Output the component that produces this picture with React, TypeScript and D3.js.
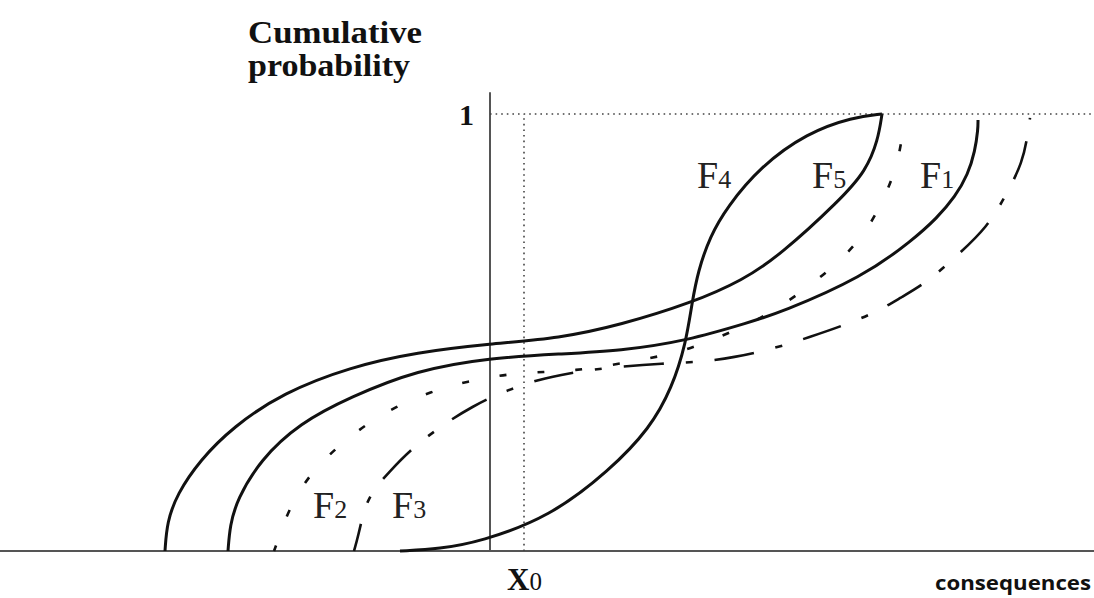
import React from "react";
import * as d3 from "d3";

// Consequence units (vertical axis at 0), cumulative probability 0..1
const X0 = 0.68;
const yTicks = [1];

const F1: [number, number][] = [
  [-5.24, 0], [-5.2, 0.059], [-5.06, 0.117], [-4.6, 0.208], [-3.8, 0.293], [-2.8, 0.352],
  [-1.46, 0.414], [0, 0.442], [1.4, 0.451], [2.6, 0.458], [3.94, 0.481], [5.2, 0.524],
  [5.8, 0.545], [7.46, 0.627], [8.46, 0.712], [8.94, 0.762], [9.3, 0.81], [9.56, 0.862],
  [9.7, 0.915], [9.76, 0.965], [9.76, 0.986],
];
const F2: [number, number][] = [
  [-4.32, 0], [-4.26, 0.018], [-4.02, 0.098], [-3.62, 0.174], [-3.06, 0.238], [-2.5, 0.288],
  [-1.9, 0.33], [-1.2, 0.364], [-0.44, 0.389], [0.34, 0.405], [1.1, 0.41], [1.7, 0.413],
  [2.4, 0.425], [3.1, 0.439], [3.8, 0.455], [4.46, 0.483], [5.24, 0.522], [5.86, 0.563],
  [6.5, 0.616], [7.06, 0.67], [7.52, 0.73], [7.86, 0.801], [8.14, 0.879], [8.26, 0.959],
  [8.3, 0.991],
];
const F3: [number, number][] = [
  [-2.72, 0], [-2.64, 0.032], [-2.5, 0.105], [-2.3, 0.144], [-2.04, 0.178], [-1.54, 0.238],
  [-0.86, 0.295], [-0.36, 0.33], [0.2, 0.362], [1.0, 0.394], [1.6, 0.407], [2.26, 0.419],
  [3.54, 0.43], [4.16, 0.432], [4.86, 0.442], [5.74, 0.465], [6.4, 0.49], [7.0, 0.513],
  [7.74, 0.547], [8.2, 0.579], [8.76, 0.616], [9.4, 0.682], [9.94, 0.741], [10.3, 0.81],
  [10.66, 0.89], [10.76, 0.959], [10.8, 0.991],
];
const F4: [number, number][] = [
  [-1.8, 0], [-1.0, 0.005], [-0.2, 0.021], [1.2, 0.078], [2.4, 0.185], [3.2, 0.281],
  [3.64, 0.373], [3.92, 0.476], [4.04, 0.568], [4.16, 0.64], [4.4, 0.72], [4.74, 0.787],
  [5.4, 0.879], [6.34, 0.957], [7.26, 0.993], [7.84, 1],
];
const F5: [number, number][] = [
  [-6.5, 0], [-6.46, 0.066], [-6.26, 0.13], [-5.8, 0.208], [-5.14, 0.284], [-4.14, 0.362],
  [-2.8, 0.421], [-1.46, 0.455], [0, 0.474], [1.4, 0.487], [2.6, 0.517], [4.04, 0.568],
  [5.06, 0.62], [5.8, 0.677], [7.0, 0.803], [7.52, 0.87], [7.76, 0.94], [7.84, 1],
];

const seriesNames = ["F1", "F2", "F3", "F4", "F5"];
const seriesData = [F1, F2, F3, F4, F5];
const seriesDash = ["none", "7,31", "40,22,7,22", "none", "none"];
// label anchor points [x, p]
const labelPos: [number, number][] = [[8.6, 0.831], [-3.54, 0.0755], [-1.96, 0.0755], [4.14, 0.831], [6.44, 0.831]];

const W = 1094;
const H = 598;

export default function App() {
  const x = d3.scaleLinear().domain([-9.8, 12.08]).range([0, W]);
  const y = d3.scaleLinear().domain([0, 1]).range([551, 114]);
  const line = d3
    .line<[number, number]>()
    .x((d) => x(d[0]))
    .y((d) => y(d[1]))
    .curve(d3.curveBasis);

  const serif = "'Liberation Serif', 'Times New Roman', serif";

  return (
    <div style={{ position: "absolute", left: 0, top: 0, background: "#fff" }}>
      <svg width={W} height={H} viewBox={`0 0 ${W} ${H}`} style={{ display: "block" }}>
        <rect width={W} height={H} fill="#fff" />
        {/* axes */}
        <line x1={x(-9.8)} x2={x(12.08)} y1={y(0)} y2={y(0)} stroke="#555" strokeWidth={2} />
        <line x1={x(0)} x2={x(0)} y1={y(0)} y2={y(1.05)} stroke="#555" strokeWidth={2} />
        {/* dotted references */}
        {yTicks.map((t) => (
          <line key={t} x1={x(0)} x2={x(12.08)} y1={y(t)} y2={y(t)} stroke="#444" strokeWidth={1.6} strokeDasharray="1.6,4" />
        ))}
        <line x1={x(X0)} x2={x(X0)} y1={y(0)} y2={y(1)} stroke="#444" strokeWidth={1.6} strokeDasharray="1.6,4" />

        {/* curves */}
        {seriesData.map((d, i) => (
          <path
            key={seriesNames[i]}
            d={line(d) || ""}
            fill="none"
            stroke="#111"
            strokeWidth={seriesDash[i] === "none" ? 3 : 2.6}
            strokeDasharray={seriesDash[i] === "none" ? undefined : seriesDash[i]}
            strokeDashoffset={i === 2 ? 12 : i === 1 ? 1 : 0}
          />
        ))}

        {/* curve labels */}
        {seriesNames.map((n, i) => (
          <text key={n} x={x(labelPos[i][0])} y={y(labelPos[i][1])} fontFamily={serif} fill="#222">
            <tspan fontSize={38}>{n[0]}</tspan>
            <tspan fontSize={26}>{n.slice(1)}</tspan>
          </text>
        ))}

        {/* tick 1 */}
        {yTicks.map((t) => (
          <text key={"l" + t} x={474} y={y(t) + 11} textAnchor="end" fontFamily={serif} fontWeight="bold" fontSize={30} fill="#111">
            {t}
          </text>
        ))}

        {/* title */}
        <text x={248} y={43} fontFamily={serif} fontWeight="bold" fontSize={32} fill="#111" textLength={174} lengthAdjust="spacingAndGlyphs">
          Cumulative
        </text>
        <text x={248} y={76} fontFamily={serif} fontWeight="bold" fontSize={32} fill="#111" textLength={162} lengthAdjust="spacingAndGlyphs">
          probability
        </text>

        {/* X0 */}
        <text x={x(X0) - 17} y={590} fontFamily={serif} fill="#111">
          <tspan fontSize={31} fontWeight="bold">X</tspan>
          <tspan fontSize={25}>0</tspan>
        </text>

        {/* consequences */}
        <text x={935} y={590} fontFamily="'Open Sans', sans-serif" fontWeight="bold" fontSize={19} fill="#111" textLength={156} lengthAdjust="spacingAndGlyphs">
          consequences
        </text>
      </svg>
    </div>
  );
}
